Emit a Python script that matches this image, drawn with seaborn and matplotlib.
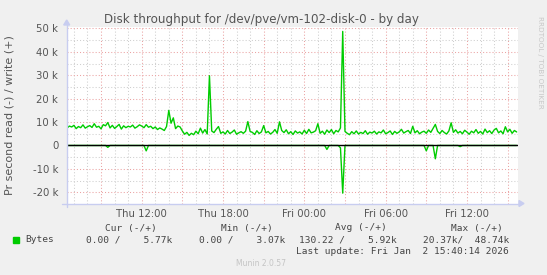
import numpy as np
import pandas as pd
import matplotlib
matplotlib.use('Agg')
import matplotlib.pyplot as plt
import matplotlib.dates as mdates
from matplotlib.ticker import MultipleLocator, FuncFormatter
from matplotlib.lines import Line2D
from matplotlib.patches import Polygon
import seaborn as sns

# ---- data (kB/s, 10-minute samples from Thu 06:30 to Fri 15:40) ----
write_k = [
    7.5, 8.3, 7.9, 8.6, 7.2, 8.1, 7.6, 8.8, 7.4, 8.0,
    8.5, 7.7, 9.3, 7.8, 8.2, 7.1, 8.9, 8.4, 9.8, 7.5,
    8.6, 7.3, 8.1, 9.0, 7.0, 8.4, 7.6, 8.2, 7.9, 8.7,
    7.4, 8.0, 8.8, 8.3, 7.6, 8.9, 7.8, 8.2, 7.2, 7.9,
    6.8, 7.5, 7.0, 6.4, 8.1, 15.0, 9.5, 11.8, 7.2, 8.3,
    7.9, 6.2, 4.8, 5.6, 4.3, 5.2, 4.6, 6.1, 5.0, 7.4,
    5.3, 6.8, 4.9, 29.8, 6.2, 5.5, 6.9, 8.1, 5.2, 5.8,
    4.9, 6.4, 5.1, 5.7, 6.6, 4.8, 5.4, 5.9, 5.2, 6.1,
    10.2, 6.0, 5.6, 4.7, 6.3, 5.1, 5.8, 8.5, 5.4, 6.0,
    4.9, 5.6, 6.8, 5.2, 10.1, 6.4, 5.5, 6.7, 5.0, 5.9,
    4.7, 6.2, 5.3, 5.8, 4.9, 6.5, 5.1, 6.9, 5.4, 5.7,
    6.3, 9.3, 5.2, 6.1, 4.8, 6.6, 5.5, 6.8, 5.0, 6.4,
    5.8, 7.5, 48.74, 6.0, 5.2, 4.6, 5.9, 5.0, 6.2, 4.9,
    5.6, 5.1, 6.3, 4.8, 5.7, 5.3, 6.1, 4.9, 5.8, 5.4,
    6.6, 5.0, 5.5, 6.2, 4.7, 6.0, 5.2, 5.8, 6.9, 5.3,
    5.9, 6.4, 5.1, 8.2, 5.4, 6.3, 5.0, 5.7, 6.1, 5.2,
    6.6, 5.6, 7.3, 9.0, 6.0, 5.1, 6.4, 5.5, 4.9, 6.2,
    9.7, 5.6, 6.7, 5.3, 6.0, 5.0, 6.5, 5.7, 4.8, 6.1,
    5.4, 6.8, 5.2, 6.0, 4.9, 7.0, 5.5, 6.3, 5.1, 6.6,
    7.3, 5.4, 6.2, 5.0, 8.0, 5.8, 6.9, 5.2, 6.4, 5.77,
]
read_k = [
    0, 0, 0, 0, 0, 0, 0, 0, 0, 0,
    0, 0, 0, 0, 0, 0, 0, 0, 0.8, 0,
    0, 0, 0, 0, 0, 0, 0, 0, 0, 0,
    0, 0, 0, 0, 0, 2.3, 0, 0, 0, 0,
    0, 0, 0, 0, 0, 0, 0, 0, 0, 0,
    0, 0, 0, 0, 0, 0, 0, 0, 0, 0,
    0, 0, 0, 0, 0, 0, 0, 0, 0, 0,
    0, 0, 0, 0, 0, 0, 0, 0, 0, 0,
    0, 0, 0, 0, 0, 0, 0, 0, 0, 0,
    0, 0, 0, 0, 0, 0, 0, 0, 0, 0,
    0, 0, 0, 0, 0, 0, 0, 0, 0, 0,
    0, 0, 0, 0, 0, 1.7, 0, 0, 0, 0,
    0, 1.0, 20.37, 0, 0, 0, 0, 0, 0, 0,
    0, 0, 0, 0, 0, 0, 0, 0, 0, 0,
    0, 0, 0, 0, 0, 0, 0, 0, 0, 0,
    0, 0, 0, 0, 0, 0, 0, 0, 0, 2.3,
    0, 0, 0, 5.7, 0, 0, 0, 0, 0, 0,
    0, 0, 0, 0, 0.5, 0, 0, 0, 0, 0,
    0, 0, 0, 0, 0, 0, 0, 0, 0, 0,
    0, 0, 0, 0, 0, 0, 0, 0, 0, 0,
]
start_time = '2026-01-01 06:30'
title = 'Disk throughput for /dev/pve/vm-102-disk-0 - by day'
ylabel = 'Pr second read (-) / write (+)'
legend_headers = ['Cur (-/+)', 'Min (-/+)', 'Avg (-/+)', 'Max (-/+)']
legend_values = ['0.00 /    5.77k', '0.00 /    3.07k', '130.22 /    5.92k', '20.37k/  48.74k']
last_update = 'Last update: Fri Jan  2 15:40:14 2026'

times = pd.date_range(start_time, periods=len(write_k), freq='10min')
df = pd.DataFrame({'time': times,
                   'write': np.array(write_k) * 1000.0,
                   'read': -np.array(read_k) * 1000.0})

sns.set_style('white')
plt.rcParams['font.family'] = ['DejaVu Sans']

W, H = 547, 275
fig = plt.figure(figsize=(W / 100, H / 100), dpi=100, facecolor='#F0F0F0')
x0, x1, ytop, ybot = 66.7, 518.0, 27.3, 203.5
ax = fig.add_axes([x0 / W, 1 - ybot / H, (x1 - x0) / W, (ybot - ytop) / H])
ax.set_facecolor('white')

sns.lineplot(data=df, x='time', y='write', ax=ax, color='#00CC00', lw=1.0, zorder=4)
sns.lineplot(data=df, x='time', y='read', ax=ax, color='#00CC00', lw=1.0, zorder=4)
ax.axhline(0, color='black', lw=1.0, zorder=5)

ax.set_xlim(pd.Timestamp('2026-01-01 06:28'), pd.Timestamp('2026-01-02 15:46'))
ax.set_ylim(-24.8e3, 50.5e3)

ax.xaxis.set_major_locator(mdates.HourLocator(byhour=range(0, 24, 3)))
ax.xaxis.set_minor_locator(mdates.HourLocator())

def xfmt(x, pos):
    d = mdates.num2date(x)
    return d.strftime('%a %H:%M') if d.hour % 6 == 0 else ''

ax.xaxis.set_major_formatter(FuncFormatter(xfmt))
ax.yaxis.set_major_locator(MultipleLocator(10000))
ax.yaxis.set_minor_locator(MultipleLocator(5000))

def yfmt(v, pos):
    k = int(round(v / 1000))
    return '0' if k == 0 else f'{k} k'

ax.yaxis.set_major_formatter(FuncFormatter(yfmt))

ax.grid(which='minor', color='#cfcfcf', ls=(0, (1, 2)), lw=0.75)
ax.grid(which='major', color='#eba3a3', ls=(0, (1, 2)), lw=0.75)
ax.set_axisbelow(True)
for s in ax.spines.values():
    s.set_visible(False)
ax.tick_params(axis='both', which='both', length=0, colors='#555555', labelsize=7.3)
ax.tick_params(axis='y', pad=6)
ax.tick_params(axis='x', pad=4)
ax.set_xlabel('')
ax.set_ylabel('')

# axis lines with arrows (figure pixel coords)
axc = '#c8cdf0'
def fx(px): return px / W
def fy(py): return 1 - py / H
fig.add_artist(Line2D([fx(62), fx(519)], [fy(ybot), fy(ybot)], color=axc, lw=1, transform=fig.transFigure))
fig.add_artist(Line2D([fx(x0), fx(x0)], [fy(207), fy(24)], color=axc, lw=1, transform=fig.transFigure))
fig.add_artist(Polygon([[fx(519), fy(ybot - 3)], [fx(519), fy(ybot + 3)], [fx(524), fy(ybot)]],
                       closed=True, color=axc, transform=fig.transFigure))
fig.add_artist(Polygon([[fx(x0 - 3), fy(25)], [fx(x0 + 3), fy(25)], [fx(x0), fy(20)]],
                       closed=True, color=axc, transform=fig.transFigure))

# texts
fig.text(fx(261), fy(19), title, ha='center', va='center', fontsize=8.6, color='#555555')
fig.text(fx(10), fy(115), ylabel, ha='center', va='center', rotation=90, fontsize=8, color='#555555')
fig.text(fx(540), fy(16), 'RRDTOOL / TOBI OETIKER', ha='center', va='top', rotation=270,
         fontsize=5.2, color='#c8c8c8')

mono = 'DejaVu Sans Mono'
fs = 6.8
tc = '#444444'
hdr_right = [157, 273, 387, 503]
for h, xr in zip(legend_headers, hdr_right):
    fig.text(fx(xr), fy(228), h, ha='right', va='center', family=mono, fontsize=fs, color=tc)
fig.add_artist(Polygon([[fx(13), fy(237)], [fx(19), fy(237)], [fx(19), fy(243)], [fx(13), fy(243)]],
                       closed=True, color='#00CC00', transform=fig.transFigure))
fig.text(fx(25), fy(240), 'Bytes', ha='left', va='center', family=mono, fontsize=fs, color=tc)
val_right = [172, 285, 397, 509]
for v, xr in zip(legend_values, val_right):
    fig.text(fx(xr), fy(240), v, ha='right', va='center', family=mono, fontsize=fs, color=tc)
fig.text(fx(509), fy(252), last_update, ha='right', va='center', family=mono, fontsize=fs, color=tc)
fig.text(fx(261), fy(264), 'Munin 2.0.57', ha='center', va='center', fontsize=5.5, color='#c4c4c4')

fig.savefig('out.png', dpi=100, facecolor=fig.get_facecolor())
